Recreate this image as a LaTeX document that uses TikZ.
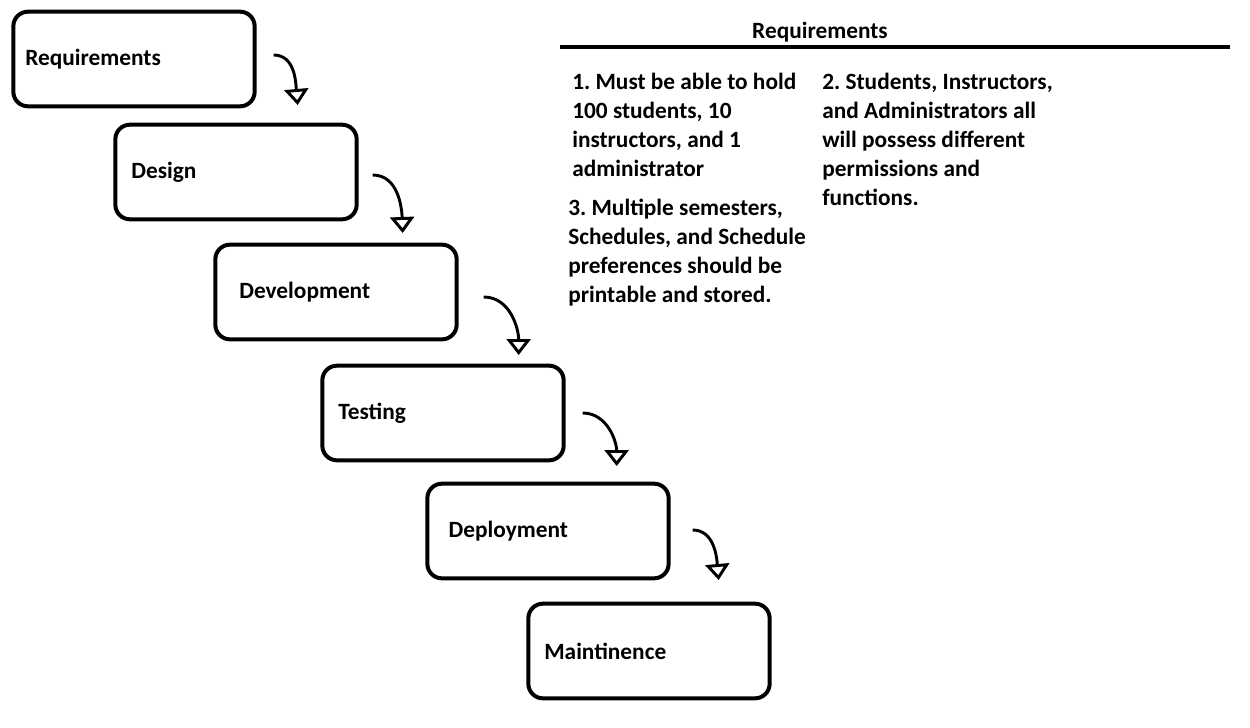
\documentclass[tikz,border=0pt]{standalone}
\usepackage{fontspec}
\setmainfont{Carlito}
\usetikzlibrary{positioning,arrows.meta}
\frenchspacing

\begin{document}
\begin{tikzpicture}[x=0.75pt,y=-0.75pt,
  stage/.style={draw,line width=3pt,rounded corners=11pt,text width=157pt,
    inner xsep=12pt,minimum height=71pt,align=left,
    font=\fontsize{17.5}{21.75}\selectfont\bfseries},
  flow/.style={line width=2.2pt,-{Triangle[open,length=12pt,width=18pt,line width=2.2pt]}},
  note/.style={anchor=north west,align=left,inner sep=0pt,
    font=\fontsize{17.5}{21.75}\selectfont\bfseries}]
\useasboundingbox (0,0) rectangle (1250,728);
% the six stages
\node[stage] (req) at (134,59) {\hspace*{-3pt}\raisebox{3pt}{Requirements}};
\node[stage] (des) at (236,172) {\raisebox{-2pt}{Design}};
\node[stage] (dev) at (336,292) {\hspace*{6pt}\raisebox{-2pt}{Development}};
\node[stage] (tst) at (443,413) {Testing};
\node[stage] (dpl) at (548,531) {\hspace*{4pt}Deployment};
\node[stage] (mnt) at (649,651) {Maintinence};
% arrows between the stages
\draw[flow] ([shift={(17,-4)}]req.east) to[out=0,in=95] ([shift={(41,46)}]req.east);
\draw[flow] ([shift={(14,3)}]des.east) to[out=0,in=92] ([shift={(44,61)}]des.east);
\draw[flow] ([shift={(25,5)}]dev.east) to[out=0,in=90] ([shift={(60,63)}]dev.east);
\draw[flow] ([shift={(17,0)}]tst.east) to[out=0,in=90] ([shift={(51,53)}]tst.east);
\draw[flow] ([shift={(22,-1)}]dpl.east) to[out=0,in=95] ([shift={(48,49)}]dpl.east);
% requirements list
\node[font=\fontsize{17.5}{21.75}\selectfont\bfseries] (head) at (820,32) {Requirements};
\draw[line width=3pt] (560,47) -- (1230,47);
\node[note] (r1) at (572,73) {1. Must be able to hold\\100 students, 10\\instructors, and 1\\administrator};
\node[note] (r3) at (568,199) {3. Multiple semesters,\\Schedules, and Schedule\\preferences should be\\printable and stored.};
\node[note] (r2) at (822,73) {2. Students, Instructors,\\and Administrators all\\will possess different\\permissions and\\functions.};
\end{tikzpicture}
\end{document}
